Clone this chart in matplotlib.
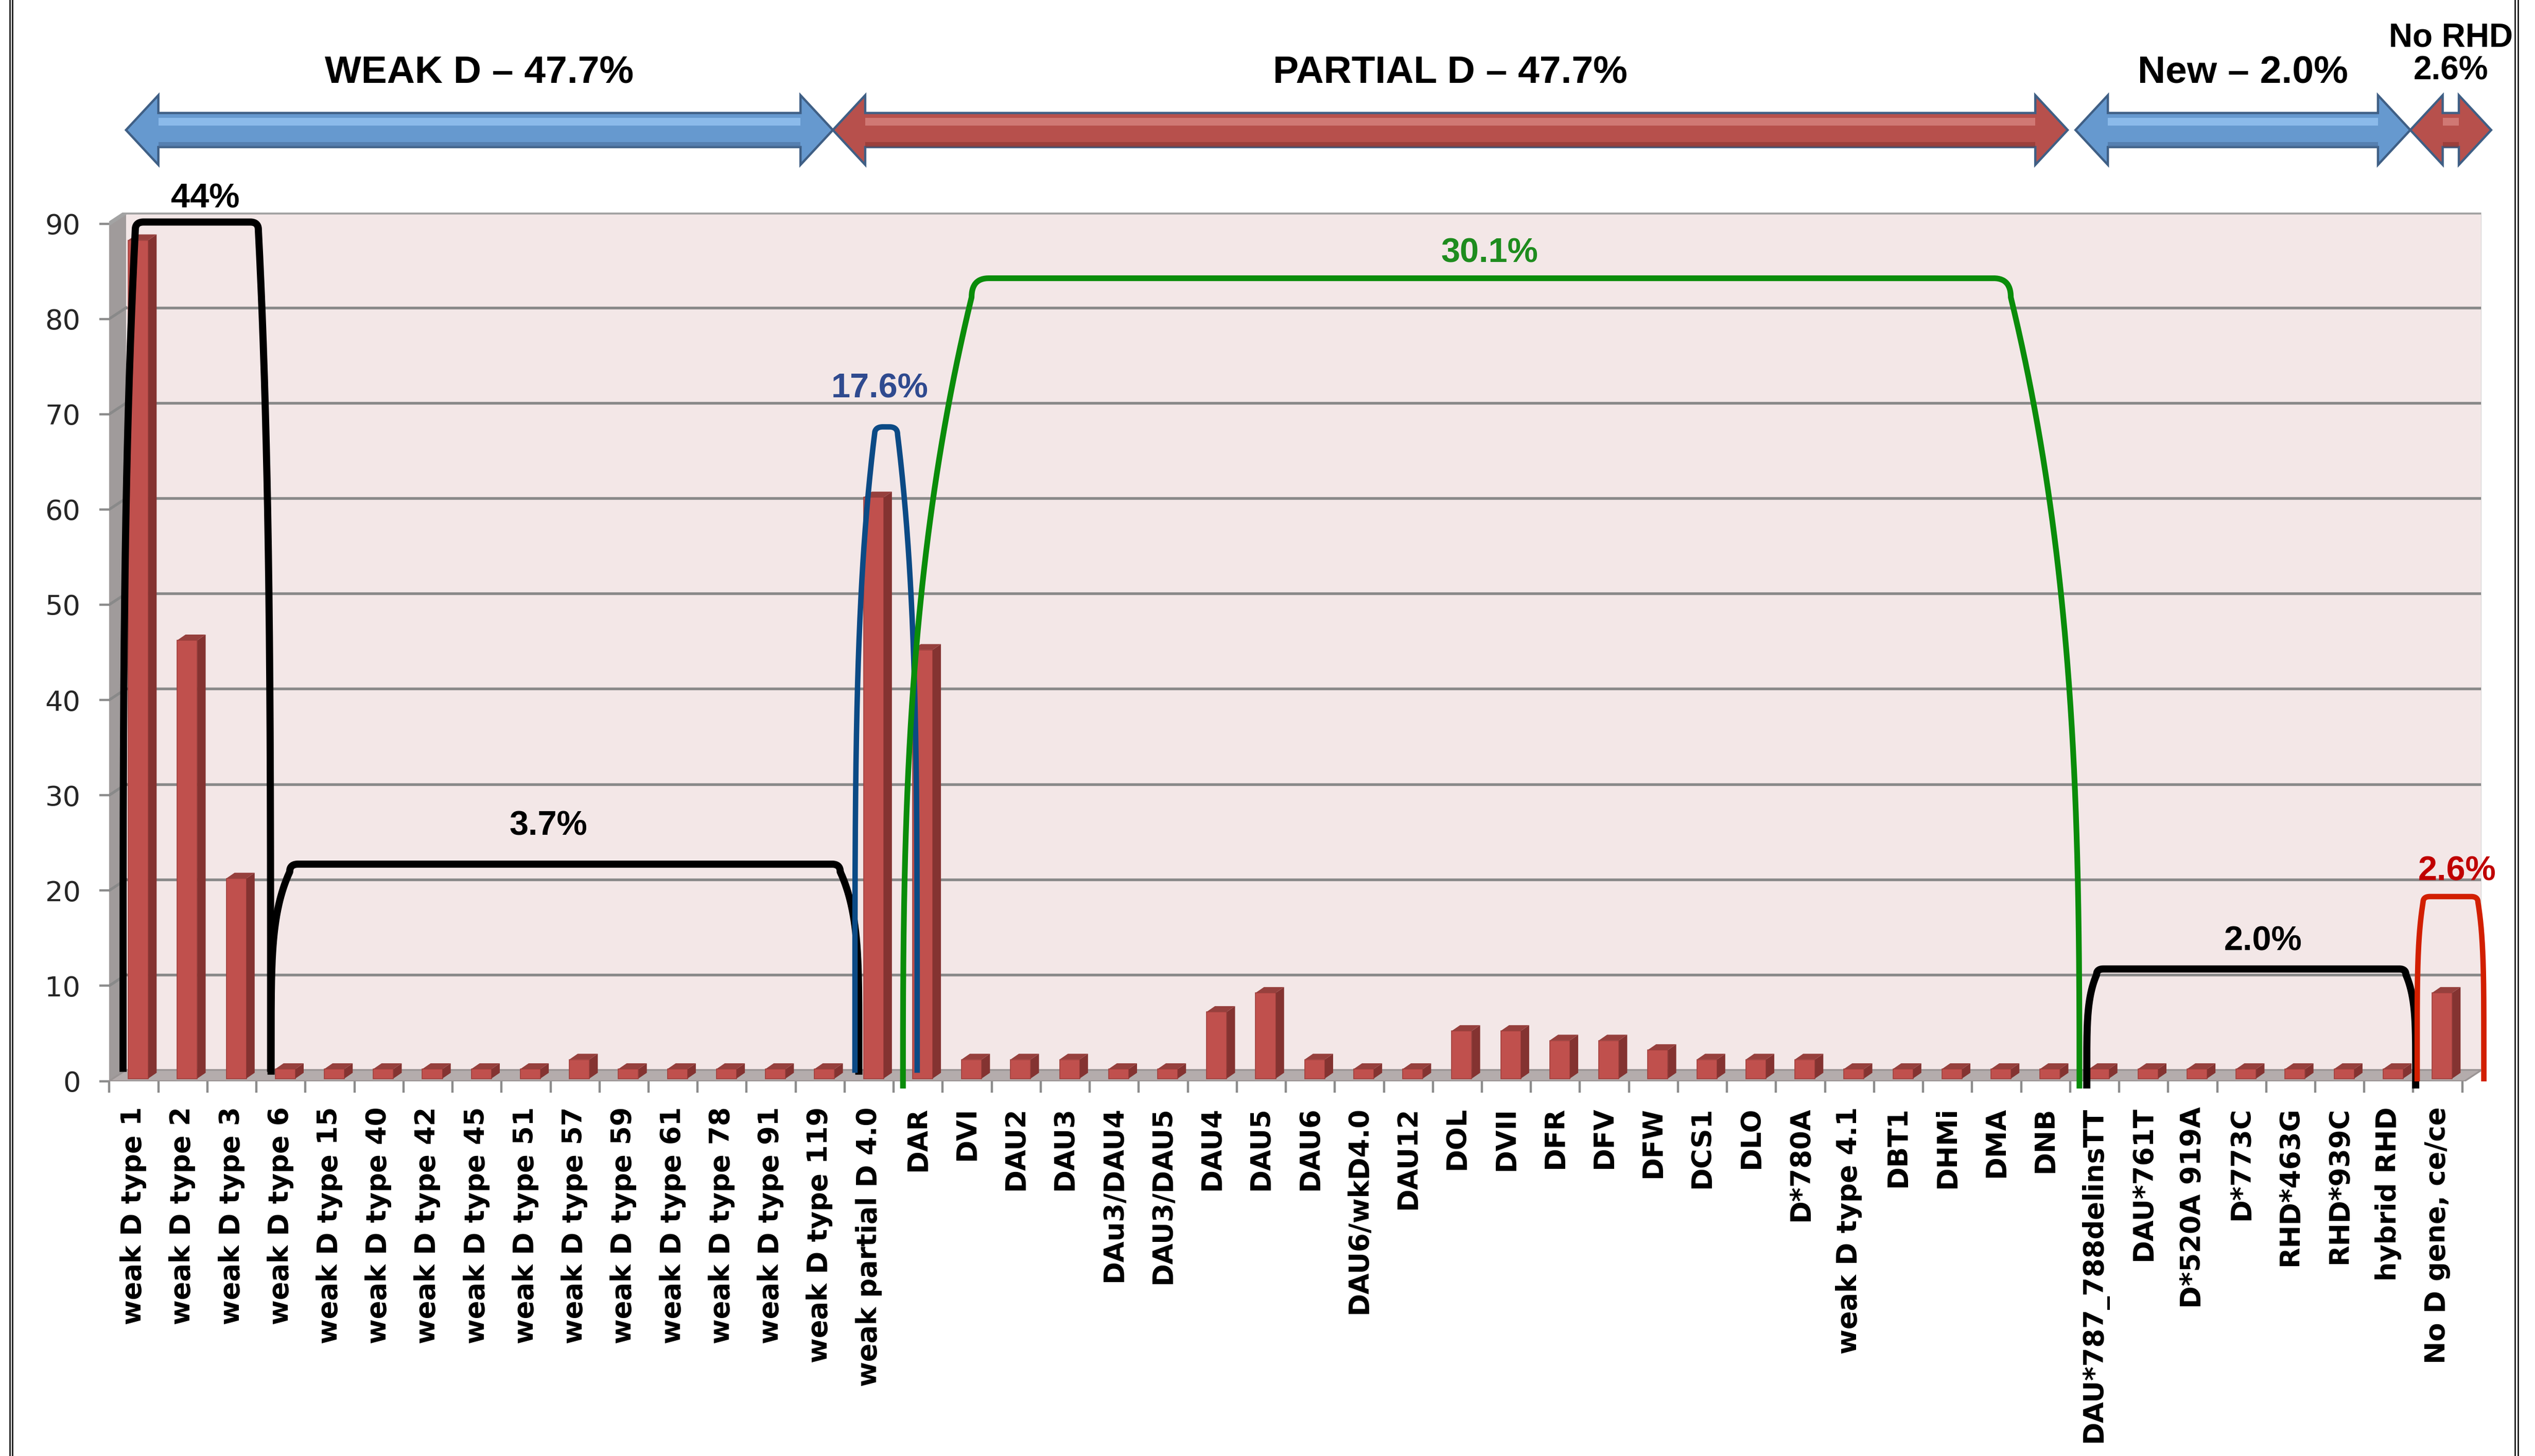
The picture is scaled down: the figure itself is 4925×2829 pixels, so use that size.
import numpy as np
import matplotlib
matplotlib.use('Agg')
import matplotlib.pyplot as plt
import matplotlib.transforms as mtransforms
from matplotlib.patches import Polygon, Rectangle
from matplotlib.lines import Line2D

plt.rcParams['font.family'] = ['DejaVu Sans']

# RHD variants and number of samples
categories = ['weak D type 1', 'weak D type 2', 'weak D type 3', 'weak D type 6',
              'weak D type 15', 'weak D type 40', 'weak D type 42', 'weak D type 45',
              'weak D type 51', 'weak D type 57', 'weak D type 59', 'weak D type 61',
              'weak D type 78', 'weak D type 91', 'weak D type 119', 'weak partial D 4.0',
              'DAR', 'DVI', 'DAU2', 'DAU3', 'DAu3/DAU4', 'DAU3/DAU5', 'DAU4', 'DAU5',
              'DAU6', 'DAU6/wkD4.0', 'DAU12', 'DOL', 'DVII', 'DFR', 'DFV', 'DFW',
              'DCS1', 'DLO', 'D*780A', 'weak D type 4.1', 'DBT1', 'DHMi', 'DMA', 'DNB',
              'DAU*787_788delinsTT', 'DAU*761T', 'D*520A 919A', 'D*773C', 'RHD*463G',
              'RHD*939C', 'hybrid RHD', 'No D gene, ce/ce']
counts = [88, 46, 21, 1, 1, 1, 1, 1, 1, 2, 1, 1, 1, 1, 1, 61,
          45, 2, 2, 2, 1, 1, 7, 9, 2, 1, 1, 5, 5, 4, 4, 3,
          2, 2, 2, 1, 1, 1, 1, 1, 1, 1, 1, 1, 1, 1, 1, 9]

# group headings (arrows above the chart), spans in category units
group_names = ['WEAK D – 47.7%', 'PARTIAL D – 47.7%', 'New – 2.0%', 'No RHD\n2.6%']
group_from = [-0.25, 14.17, 39.52, 46.35]
group_to = [14.17, 39.36, 46.35, 48.0]
group_kind = ['blue', 'red', 'blue', 'red']

# bracketed subgroups inside the plot
span_labels = ['44%', '3.7%', '17.6%', '30.1%', '2.0%', '2.6%']
span_left = [-0.31, 2.71, 14.62, 15.6, 39.75, 46.49]
span_right = [2.70, 14.7, 15.89, 39.6, 46.46, 47.85]
span_top = [89.0, 21.6, 67.5, 83.1, 10.6, 18.2]
span_bottom = [-0.2, -0.5, -0.3, -1.95, -1.95, -1.2]
span_label_x = [1.37, 8.37, 15.13, 27.57, 43.35, 47.3]
span_label_y = [91.4, 25.6, 71.5, 85.7, 13.5, 20.8]

span_inset = [0.25, 0.38, 0.4, 1.4, 0.2, 0.12]
span_power = [3.5, 5, 4, 2.8, 5, 5]
span_round = [0.8, 0.8, 0.8, 2.0, 0.6, 0.6]
span_color = ['black', 'black', '#0b4a85', '#0a8c0a', 'black', '#d21f00']
span_text_color = ['black', 'black', '#2f4a8f', '#1e8c1e', 'black', '#c00000']
span_lw = [5.0, 5.0, 3.8, 4.0, 5.0, 3.8]

fig = plt.figure(figsize=(24.625, 14.145), dpi=200)
ax = fig.add_axes([0.04305, 0.25749, 0.9359, 0.59656])

x = np.arange(len(categories))
x_lo, x_hi = -0.594, 47.805
wall = 0.346     # depth of the 3d box along x
floor = 1.17     # depth of the 3d box along y
back_x = x_lo + wall

# --- 3d box: back wall, side wall, floor
ax.add_patch(Rectangle((back_x, 0), x_hi - back_x, 90, fc='#f3e7e7', ec='none', zorder=0))
ax.add_patch(Polygon([(x_lo, -floor), (x_lo, 90 - floor), (back_x, 90), (back_x, 0)],
                     closed=True, fc='#a09b9b', ec='none', zorder=0.5))
ax.add_patch(Polygon([(x_lo, -floor), (x_hi - wall, -floor), (x_hi, 0), (back_x, 0)],
                     closed=True, fc='#b4acac', ec='#9a9494', lw=1.2, zorder=0.6))

for v in range(10, 90, 10):
    ax.plot([back_x, x_hi], [v, v], color='#898989', lw=1.9, zorder=1)
    ax.plot([x_lo, back_x], [v - floor, v], color='#898989', lw=1.9, zorder=1)
ax.plot([x_lo, back_x, x_hi], [90 - floor, 90, 90], color='#a3a3a3', lw=2.8, zorder=1)
ax.plot([x_hi, x_hi], [0, 90], color='#cfcfcf', lw=1, zorder=1)

# --- bars with a side face and top cap
w, side, rise, base = 0.41, 0.17, 0.6, -0.9
ax.bar(x, counts, width=w, bottom=base, color='#c0504d', edgecolor='#a13f3c',
       linewidth=0.6, zorder=3)
for xi, v in zip(x, counts):
    top = base + v
    r = xi + w / 2
    ax.add_patch(Polygon([(r, base), (r + side, base + rise), (r + side, top + rise), (r, top)],
                         closed=True, fc='#843331', ec='none', zorder=3))
    ax.add_patch(Polygon([(xi - w / 2, top), (r, top), (r + side, top + rise),
                          (xi - w / 2 + side, top + rise)],
                         closed=True, fc='#96403d', ec='none', zorder=3))


def draw_span(x0, x1, top, bottom, inset, p, ry, color, lw):
    h = top - bottom
    t = np.linspace(0, 1, 150)
    ys = bottom + (h - ry) * t
    xs = x0 + inset * t ** p
    # rounded corner into the flat top
    s = np.linspace(0, 1, 30)
    rx = 0.12 * ry / 0.8 + 0.05
    p0 = np.array([x0 + inset, top - ry])
    p1 = np.array([x0 + inset, top])
    p2 = np.array([x0 + inset + rx, top])
    bez = ((1 - s) ** 2)[:, None] * p0 + (2 * s * (1 - s))[:, None] * p1 + (s ** 2)[:, None] * p2
    lx = np.concatenate([xs, bez[:, 0]])
    ly = np.concatenate([ys, bez[:, 1]])
    rx_side = x0 + x1 - lx
    px = np.concatenate([lx, rx_side[::-1]])
    py = np.concatenate([ly, ly[::-1]])
    ax.plot(px, py, color=color, lw=lw, solid_joinstyle='round', solid_capstyle='butt',
            clip_on=False, zorder=5)


for i in range(len(span_labels)):
    draw_span(span_left[i], span_right[i], span_top[i], span_bottom[i], span_inset[i],
              span_power[i], span_round[i], span_color[i], span_lw[i])
    ax.text(span_label_x[i], span_label_y[i], span_labels[i], ha='center', va='center',
            fontsize=24, fontweight='bold', family='Liberation Sans',
            color=span_text_color[i], zorder=6, clip_on=False)

# --- axes and ticks
ax.set_xlim(x_lo, x_hi)
ax.set_ylim(-floor, 90)
for sp in ax.spines.values():
    sp.set_visible(False)
ax.set_facecolor('none')

ax.set_yticks(np.arange(0, 100, 10) - floor)
ax.set_yticklabels([str(v) for v in range(0, 100, 10)])
ax.tick_params(axis='y', length=7, width=1.6, color='#8c8c8c', pad=13,
               labelsize=19.5, labelcolor='#262626')

ax.set_xticks(x - 0.1)
ax.set_xticklabels(categories, rotation=90, fontsize=19, fontweight='bold')
ax.set_xticks(np.arange(len(categories) + 1) - 0.59, minor=True)
ax.tick_params(axis='x', which='major', length=0, pad=18)
ax.tick_params(axis='x', which='minor', length=8, width=1.6, color='#8c8c8c')

# --- group arrows above the chart
trans = mtransforms.blended_transform_factory(ax.transData, fig.transFigure)
yc, shaft, head, hl = 0.9107, 0.0117, 0.0239, 0.66
fills = {'blue': ('#6699cf', '#9cc9f6', '#4a6f9c'),
         'red': ('#b7504c', '#dc8a86', '#8a3431')}

for name, x0, x1, kind in zip(group_names, group_from, group_to, group_kind):
    fc, light, dark = fills[kind]
    pts = [(x0, yc), (x0 + hl, yc + head), (x0 + hl, yc + shaft), (x1 - hl, yc + shaft),
           (x1 - hl, yc + head), (x1, yc), (x1 - hl, yc - head), (x1 - hl, yc - shaft),
           (x0 + hl, yc - shaft), (x0 + hl, yc - head)]
    fig.add_artist(Polygon(pts, closed=True, transform=trans, fc=fc, ec='#3f5f85', lw=1.6,
                           zorder=3))
    if x1 - x0 > 2 * hl:
        fig.add_artist(Rectangle((x0 + hl, yc + 0.25 * shaft), x1 - x0 - 2 * hl, 0.45 * shaft,
                                 transform=trans, fc=light, ec='none', alpha=0.7, zorder=3.1))
        fig.add_artist(Rectangle((x0 + hl, yc - shaft), x1 - x0 - 2 * hl, 0.3 * shaft,
                                 transform=trans, fc=dark, ec='none', alpha=0.6, zorder=3.1))
    mid = (x0 + x1) / 2
    if '\n' in name:
        fig.text(mid, 0.9628, name, transform=trans, ha='center', va='center', fontsize=23,
                 fontweight='bold', family='Liberation Sans', linespacing=1.08)
    else:
        fig.text(mid, 0.9500, name, transform=trans, ha='center', va='center', fontsize=27,
                 fontweight='bold', family='Liberation Sans')

# frame lines at the sides
for fx in (0.00386, 0.00497, 0.99208, 0.9933):
    fig.add_artist(Line2D([fx, fx], [0, 1], transform=fig.transFigure, color='black', lw=0.9))

fig.savefig('out.png', dpi=200, facecolor='white')
